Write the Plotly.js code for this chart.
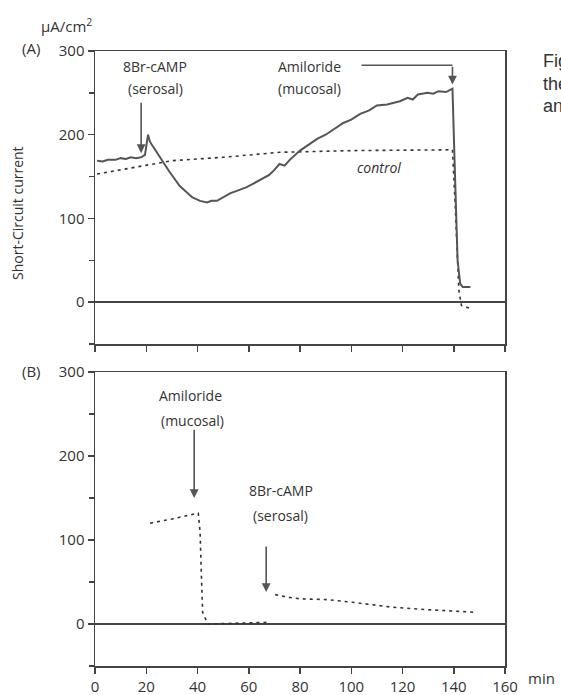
<!DOCTYPE html>
<html>
<head>
<meta charset="utf-8">
<script src="https://cdn.plot.ly/plotly-3.0.1.min.js"></script>
<style>html,body{margin:0;padding:0;background:#fff;}#chart{width:561px;height:695px;}</style>
</head>
<body>
<div id="chart"></div>
<script>
// Panel A: 8Br-cAMP then amiloride (solid), control (dotted)
var aTime = [0.8, 3, 5, 8, 10, 12, 14, 16, 18, 19.5, 20.7, 21.4, 22, 25.4, 29, 33, 38, 41, 43.7, 45.5, 47.6, 52.7, 59, 62, 65.6, 68, 70, 72, 74, 76, 80, 84, 86.7, 90, 96.9, 100, 103.5, 107, 110, 114, 119, 122, 124, 126, 129.7, 132, 134, 137, 139.5, 140.5, 141.5, 142.5, 143.5, 146.5];
var aCurrent = [169, 168, 170, 170, 172, 171, 173, 172, 173, 176, 200, 192, 189, 173, 156, 139, 125, 121, 119, 121, 121, 130, 137, 142, 148, 152, 158, 165, 163, 170, 181, 190, 195, 200, 214, 218, 225, 229, 235, 236, 240, 244, 242, 248, 250, 249, 252, 251, 255, 150, 50, 22, 18, 18];
var aCtrlTime = [0.8, 18, 30, 50, 72, 100, 139.5, 140.5, 141.5, 142, 143, 146];
var aCtrlCurrent = [153, 162, 169, 173, 179, 181, 182, 120, 40, 14, -4, -7];
// Panel B: amiloride first, then 8Br-cAMP
var bTime1 = [21.5, 30, 40.3, 41, 41.5, 42, 44, 56, 68];
var bCurrent1 = [120, 125, 132, 110, 60, 14, 0, 1, 2];
var bTime2 = [70.3, 75, 80, 90.6, 100, 116, 130, 148];
var bCurrent2 = [35, 32, 30, 29, 26, 20, 17, 14];
var xTicks = [0, 20, 40, 60, 80, 100, 120, 140, 160];
var yTicks = [0, 100, 200, 300];

var FONT = "Open Sans, DejaVu Sans, sans-serif";
var INK = "#444";
function px(x){ return (x - 95) / 410; }
function py(y){ return (666 - y) / 615; }

var dotted = {color: "#333", width: 1.6, dash: "3px,4px"};
var traces = [
  {x: aCtrlTime, y: aCtrlCurrent, xaxis: "x", yaxis: "y", mode: "lines", line: dotted, hoverinfo: "skip"},
  {x: aTime, y: aCurrent, xaxis: "x", yaxis: "y", mode: "lines", line: {color: "#555", width: 2}, hoverinfo: "skip"},
  {x: bTime1, y: bCurrent1, xaxis: "x2", yaxis: "y2", mode: "lines", line: dotted, hoverinfo: "skip"},
  {x: bTime2, y: bCurrent2, xaxis: "x2", yaxis: "y2", mode: "lines", line: dotted, hoverinfo: "skip"}
];

function xax(anchor, labels){
  return {domain: [0, 1], range: [0, 160], anchor: anchor, tickvals: xTicks, ticktext: xTicks.map(String),
    showticklabels: labels, ticks: "outside", ticklen: 6, tickcolor: INK, tickwidth: 1.5,
    showline: true, mirror: true, linecolor: INK, linewidth: 1.5, showgrid: false, zeroline: false,
    tickfont: {family: FONT, size: 15, color: "#333"}};
}
function yax(anchor, dom){
  return {domain: dom, range: [-50, 300], anchor: anchor, tickvals: yTicks, ticktext: yTicks.map(String),
    ticks: "outside", ticklen: 6, tickcolor: INK, tickwidth: 1.5,
    minor: {tickvals: [-50, 50, 150, 250], ticks: "outside", ticklen: 5, tickcolor: INK, tickwidth: 1.5},
    showline: true, mirror: true, linecolor: INK, linewidth: 1.5, showgrid: false,
    zeroline: true, zerolinecolor: INK, zerolinewidth: 1.5,
    tickfont: {family: FONT, size: 15, color: "#333"}};
}

var txt = {family: FONT, size: 14, color: "#333"};
var ann = [];
function label(x, y, t, extra){
  var a = {xref: "paper", yref: "paper", x: px(x), y: py(y), text: t, showarrow: false,
    xanchor: "center", yanchor: "middle", font: txt};
  for (var k in extra) a[k] = extra[k];
  ann.push(a);
}
function arrow(xr, yr, x, yTip, yTail){
  ann.push({xref: xr, yref: yr, x: x, y: yTip, ax: x, ay: yTail, axref: xr, ayref: yr, text: "",
    showarrow: true, arrowhead: 2, arrowsize: 1.1, arrowwidth: 1.6, arrowcolor: "#555"});
}
label(31, 48, "(A)", {font: {family: FONT, size: 15, color: "#333"}});
label(31, 371, "(B)", {font: {family: FONT, size: 15, color: "#333"}});
label(66, 25, "μA/cm<sup>2</sup>", {font: {family: FONT, size: 15, color: "#333"}});
label(17, 213, "Short-Circuit current", {textangle: -90, font: {family: FONT, size: 14, color: "#333"}});
label(541, 678, "min", {font: {family: FONT, size: 15, color: "#333"}});
label(155, 66, "8Br-cAMP");
label(155, 88, "(serosal)");
label(309, 66, "Amiloride");
label(309, 88, "(mucosal)");
label(379, 167, "<i>control</i>");
label(190, 395, "Amiloride");
label(192, 420, "(mucosal)");
label(281, 490, "8Br-cAMP");
label(280, 515, "(serosal)");
var figFont = {family: "Liberation Sans, Arial, sans-serif", size: 18, color: "#333"};
label(541, 61, "Fig", {xanchor: "left", font: figFont});
label(541, 84, "the", {xanchor: "left", font: figFont});
label(541, 106, "an", {xanchor: "left", font: figFont});

arrow("x", "y", 18, 178, 240);
arrow("x", "y2", 38.7, 150, 233);
arrow("x2", "y2", 66.8, 38, 94);
arrow("x", "y", 139.5, 260, 283);

var shapes = [
  {type: "line", xref: "x", yref: "y", x0: 104, x1: 139.5, y0: 283, y1: 283, line: {color: "#555", width: 1.6}}
];

var layout = {
  width: 561, height: 695,
  margin: {l: 95, r: 56, t: 51, b: 29},
  paper_bgcolor: "#fff", plot_bgcolor: "#fff",
  showlegend: false,
  xaxis: xax("y", false),
  yaxis: yax("x", [py(344), 1]),
  xaxis2: xax("y2", true),
  yaxis2: yax("x2", [0, py(372)]),
  annotations: ann,
  shapes: shapes
};
Plotly.newPlot("chart", traces, layout, {staticPlot: true});
</script>
</body>
</html>
